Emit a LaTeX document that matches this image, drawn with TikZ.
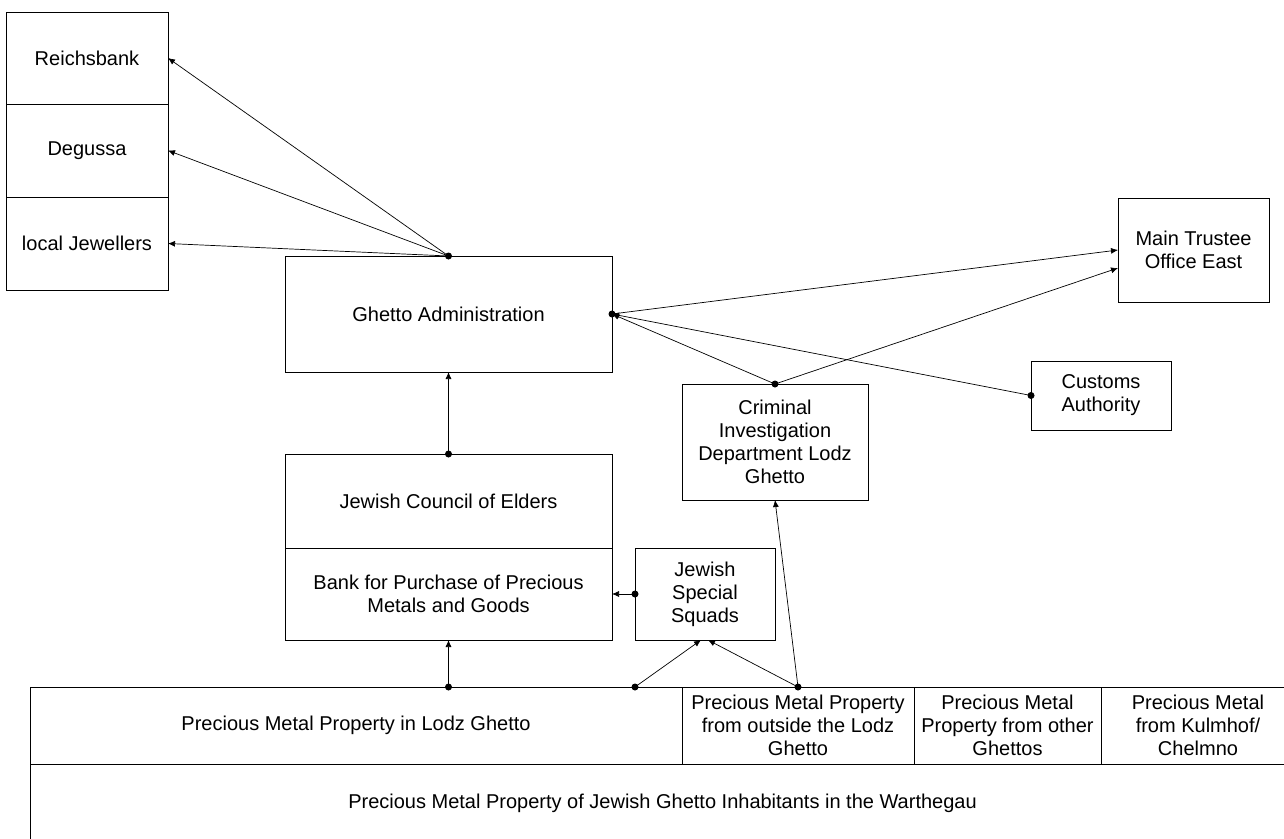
\documentclass[tikz,border=0pt]{standalone}
\usepackage{fontspec}
\setmainfont{Liberation Sans}
\usepackage{tikz}
\usetikzlibrary{arrows.meta}
\tikzset{
  blk/.style={draw, line width=0.8pt, inner sep=0pt, outer sep=0pt, align=center,
    font=\fontsize{20}{23}\selectfont},
  link/.style={line width=0.7pt, -{Latex[length=7pt,width=6pt]}},
}

\begin{document}
\begin{tikzpicture}[x=1pt,y=-1pt]
\useasboundingbox (0,0) rectangle (1284,838);
% receivers
\node[blk, minimum width=162pt, minimum height=92pt] (reich) at (87,58) {Reichsbank};
\node[blk, minimum width=162pt, minimum height=93pt] (degussa) at (87,150.5) {Degussa};
\node[blk, minimum width=162pt, minimum height=93pt] (jewel) at (87,243.5) {local Jewellers};
\node[blk, minimum width=151pt, minimum height=104pt] (trustee) at (1193.5,250) {Main Trustee\\Office East};
% authorities
\node[blk, minimum width=327pt, minimum height=116pt] (admin) at (448.5,314) {Ghetto Administration};
\node[blk, minimum width=140pt, minimum height=69pt] (customs) at (1101,395.5) {Customs\\Authority};
\node[blk, minimum width=186pt, minimum height=116pt] (kripo) at (775,442) {Criminal\\Investigation\\Department Lodz\\Ghetto};
\node[blk, minimum width=327pt, minimum height=94pt] (council) at (448.5,501) {Jewish Council of Elders};
\node[blk, minimum width=327pt, minimum height=92pt] (bank) at (448.5,594) {Bank for Purchase of Precious\\Metals and Goods};
\node[blk, minimum width=140pt, minimum height=92pt] (squads) at (705,594) {Jewish\\Special\\Squads};
% property
\node[blk, minimum width=652pt, minimum height=77pt] (lodz) at (356,725.5) {Precious Metal Property in Lodz Ghetto};
\node[blk, minimum width=232pt, minimum height=77pt] (outside) at (798,725.5) {Precious Metal Property\\from outside the Lodz\\Ghetto};
\node[blk, minimum width=187pt, minimum height=77pt] (other) at (1007.5,725.5) {Precious Metal\\Property from other\\Ghettos};
\node[blk, minimum width=194pt, minimum height=77pt] (kulmhof) at (1198,725.5) {Precious Metal\\from Kulmhof/\\Chelmno};
\node[blk, minimum width=1265pt, minimum height=78pt] (warthe) at (662.5,803) {Precious Metal Property of Jewish Ghetto Inhabitants in the Warthegau};

\coordinate (lodzA) at (bank.south |- lodz.north);
\coordinate (lodzB) at (squads.west |- lodz.north);

\draw[link] (admin.north) -- (reich.east);
\draw[link] (admin.north) -- (degussa.east);
\draw[link] (admin.north) -- (jewel.east);
\draw[link] (admin.east) -- (trustee.west);
\draw[link] (kripo.north) -- (admin.east);
\draw[link] (kripo.north) -- ([yshift=-18pt]trustee.west);
\draw[link] (customs.west) -- (admin.east);
\draw[link] (council.north) -- (admin.south);
\draw[link] (squads.west) -- (bank.east);
\draw[link] (lodzA) -- (bank.south);
\draw[link] (lodzB) -- ([xshift=-4pt]squads.south);
\draw[link] (outside.north) -- ([xshift=3pt]squads.south);
\draw[link] (outside.north) -- (kripo.south);

\foreach \p in {admin.north, admin.east, kripo.north, customs.west, council.north,
  squads.west, lodzA, lodzB, outside.north}
  \fill (\p) circle (3.5pt);
\end{tikzpicture}
\end{document}
